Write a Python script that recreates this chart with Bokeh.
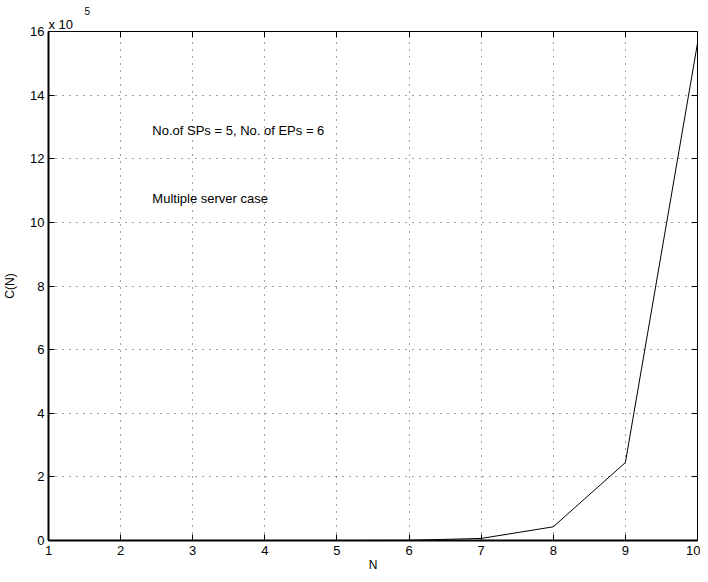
from bokeh.plotting import figure
from bokeh.models import LinearAxis, Range1d, FixedTicker, CustomJSTickFormatter, Label, Title
from bokeh.embed import file_html
from bokeh.resources import INLINE

N = [1, 2, 3, 4, 5, 6, 7, 8, 9, 10]
C = [0, 0, 0, 0, 20, 500, 6500, 43000, 245000, 1563000]
x_ticks = [1, 2, 3, 4, 5, 6, 7, 8, 9, 10]
y_ticks = [0, 200000, 400000, 600000, 800000, 1000000, 1200000, 1400000, 1600000]
ann1 = "No.of SPs = 5, No. of EPs = 6"
ann2 = "Multiple server case"
scale_text = "x 10"
scale_exp = "5"

FONT = "Liberation Sans"

p = figure(width=700, height=574, output_backend="svg", toolbar_location=None, title=None,
           x_range=Range1d(1, 10), y_range=Range1d(0, 1600000),
           min_border_left=48, min_border_right=3, min_border_top=31, min_border_bottom=32,
           x_axis_label="N", y_axis_label="C(N)")
p.outline_line_color = "black"
p.outline_line_width = 1
p.background_fill_color = "white"
p.border_fill_color = "white"

p.line(N, C, line_color="black", line_width=1)

fmt = CustomJSTickFormatter(code="return (tick/1e5).toFixed(0);")
p.xaxis.ticker = FixedTicker(ticks=x_ticks)
p.yaxis.ticker = FixedTicker(ticks=y_ticks)
p.yaxis.formatter = fmt

for ax in list(p.xaxis) + list(p.yaxis):
    ax.major_tick_in = 6
    ax.major_tick_out = 0
    ax.major_tick_line_width = 1
    ax.minor_tick_line_color = None
    ax.axis_line_color = "black"
    ax.axis_line_width = 2
    ax.major_tick_line_color = "black"
    ax.major_label_text_font = FONT
    ax.major_label_text_font_size = "13px"
    ax.major_label_text_color = "black"
    ax.axis_label_text_font = FONT
    ax.axis_label_text_font_size = "12px"
    ax.axis_label_text_font_style = "normal"
    ax.axis_label_text_color = "black"

p.xaxis.major_label_standoff = 5
p.xaxis.axis_label_standoff = 0
p.yaxis.major_label_standoff = 4
p.yaxis.axis_label_standoff = 10

top = LinearAxis(ticker=FixedTicker(ticks=x_ticks), major_label_text_color=None,
                 major_label_text_font_size="1px", major_label_standoff=0,
                 major_tick_in=6, major_tick_out=0, major_tick_line_width=1,
                 axis_line_color="black", axis_line_width=1,
                 minor_tick_line_color=None)
right = LinearAxis(ticker=FixedTicker(ticks=y_ticks), major_label_text_color=None,
                   major_label_text_font_size="1px", major_label_standoff=0,
                   major_tick_in=6, major_tick_out=0, major_tick_line_width=1,
                   axis_line_color="black", axis_line_width=1,
                   minor_tick_line_color=None)
p.add_layout(top, "above")
p.add_layout(right, "right")

t1 = Title(text=scale_text, align="left", text_font=FONT, text_font_size="13px",
           text_font_style="normal", text_color="black", standoff=0)
t2 = Title(text=scale_exp, align="left", offset=36, text_font=FONT, text_font_size="10px",
           text_font_style="normal", text_color="black", standoff=0)
p.add_layout(t1, "above")
p.add_layout(t2, "above")

for g in p.grid:
    g.grid_line_color = "black"
    g.grid_line_alpha = 0.75
    g.grid_line_dash = "1 6"
p.xgrid.ticker = FixedTicker(ticks=x_ticks)
p.ygrid.ticker = FixedTicker(ticks=y_ticks)

p.add_layout(Label(x=2.44, y=1290000, text=ann1, text_font=FONT, text_font_size="13px",
                   text_baseline="middle", text_color="black"))
p.add_layout(Label(x=2.44, y=1076000, text=ann2, text_font=FONT, text_font_size="13px",
                   text_baseline="middle", text_color="black"))

with open("out.html", "w") as f:
    f.write(file_html(p, INLINE))
